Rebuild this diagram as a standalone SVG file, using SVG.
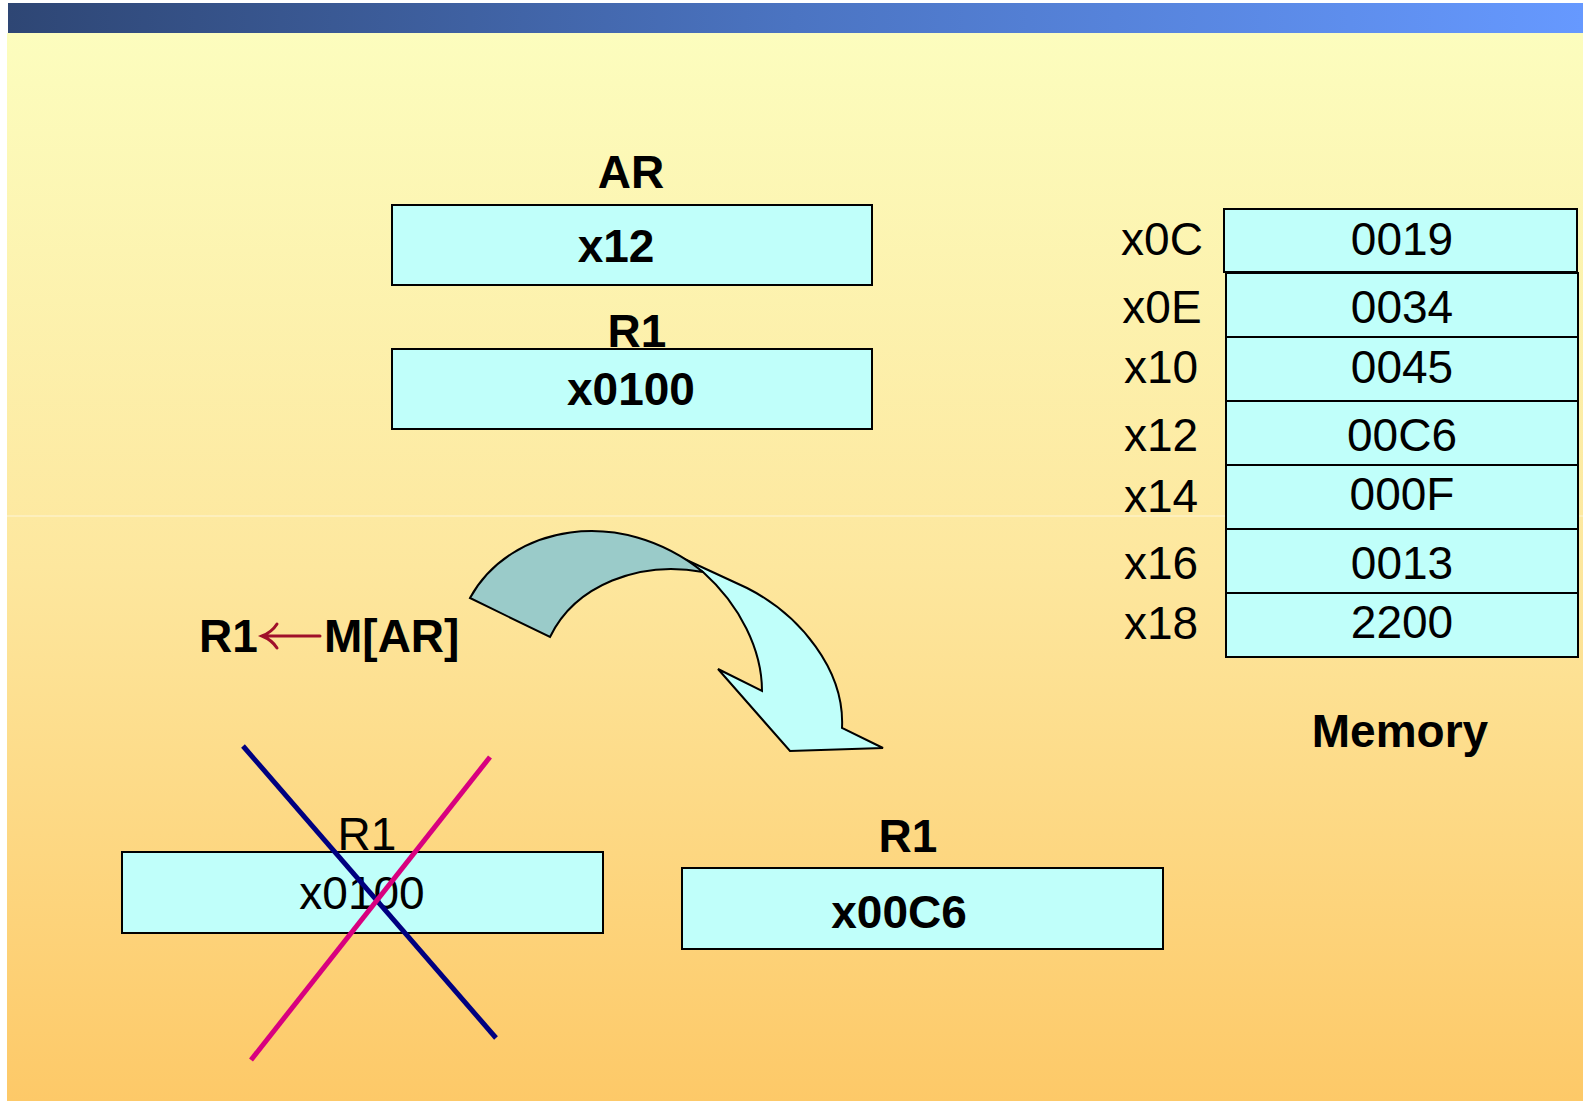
<svg xmlns="http://www.w3.org/2000/svg" width="1583" height="1101" viewBox="0 0 1583 1101">
  <defs>
    <linearGradient id="titleBar" x1="0" y1="0" x2="1" y2="0">
      <stop offset="0" stop-color="#2E4674"/>
      <stop offset="0.5" stop-color="#4B74C2"/>
      <stop offset="1" stop-color="#6699FF"/>
    </linearGradient>
    <linearGradient id="slideBg" x1="0" y1="0" x2="0" y2="1">
      <stop offset="0" stop-color="#FCFDBE"/>
      <stop offset="0.5" stop-color="#FDE79E"/>
      <stop offset="1" stop-color="#FDC968"/>
    </linearGradient>
    <style>
      .cell { fill: #C0FFFA; stroke: #000; stroke-width: 2; }
      .bold { font-family: "Liberation Sans", Arial, sans-serif; font-weight: bold; font-size: 46px; fill: #000; }
      .reg { font-family: "Liberation Sans", Arial, sans-serif; font-size: 46px; fill: #000; }
      .mid { text-anchor: middle; }
      .outline { stroke: #000; stroke-width: 2; stroke-linejoin: miter; }
    </style>
  </defs>

  <!-- page -->
  <rect x="0" y="0" width="1583" height="1101" fill="#FFFFFF"/>
  <rect x="7" y="33" width="1576" height="1068" fill="url(#slideBg)"/>
  <line x1="7" y1="516" x2="1583" y2="516" stroke="#FFFFFF" stroke-opacity="0.6" stroke-width="1"/>
  <rect x="8" y="3" width="1575" height="30" fill="url(#titleBar)"/>

  <!-- AR register -->
  <g id="reg-ar">
    <text class="bold mid" x="631" y="188">AR</text>
    <rect class="cell" x="392" y="205" width="480" height="80"/>
    <text class="bold mid" x="616" y="262">x12</text>
  </g>

  <!-- R1 register, before the load -->
  <g id="reg-r1-old">
    <text class="bold mid" x="637" y="347">R1</text>
    <rect class="cell" x="392" y="349" width="480" height="80"/>
    <text class="bold mid" x="631" y="405">x0100</text>
  </g>

  <!-- memory cells -->
  <g id="memory">
    <rect class="cell" x="1224" y="209" width="353" height="63"/>
    <rect class="cell" x="1226" y="273" width="352" height="64"/>
    <rect class="cell" x="1226" y="337" width="352" height="64"/>
    <rect class="cell" x="1226" y="401" width="352" height="64"/>
    <rect class="cell" x="1226" y="465" width="352" height="64"/>
    <rect class="cell" x="1226" y="529" width="352" height="64"/>
    <rect class="cell" x="1226" y="593" width="352" height="64"/>
    <g class="reg mid">
      <text x="1402" y="255">0019</text>
      <text x="1402" y="323">0034</text>
      <text x="1402" y="383">0045</text>
      <text x="1402" y="451">00C6</text>
      <text x="1402" y="510">000F</text>
      <text x="1402" y="579">0013</text>
      <text x="1402" y="638">2200</text>
      <text x="1162" y="255">x0C</text>
      <text x="1162" y="323">x0E</text>
      <text x="1161" y="383">x10</text>
      <text x="1161" y="451">x12</text>
      <text x="1161" y="512">x14</text>
      <text x="1161" y="579">x16</text>
      <text x="1161" y="639">x18</text>
    </g>
    <text class="bold mid" x="1400" y="747">Memory</text>
  </g>

  <!-- register transfer statement -->
  <g id="rtl">
    <text class="bold" x="199" y="652">R1</text>
    <path d="M262,636 H320 M277,624 Q272,632 262,636 Q272,640 277,648" fill="none" stroke="#A0102A" stroke-width="3" stroke-linecap="round"/>
    <text class="bold" x="324" y="652">M[AR]</text>
  </g>

  <!-- R1 old value, struck out -->
  <g id="reg-r1-discarded">
    <text class="reg mid" x="367" y="850">R1</text>
    <rect class="cell" x="122" y="852" width="481" height="81"/>
    <text class="reg mid" x="362" y="909">x0100</text>
    <line x1="243" y1="746" x2="496" y2="1038" stroke="#000080" stroke-width="5"/>
    <line x1="490" y1="757" x2="251" y2="1060" stroke="#D8007F" stroke-width="5"/>
  </g>

  <!-- R1 after the load -->
  <g id="reg-r1-new">
    <text class="bold mid" x="908" y="852">R1</text>
    <rect class="cell" x="682" y="868" width="481" height="81"/>
    <text class="bold mid" x="899" y="928">x00C6</text>
  </g>

  <!-- curved block arrow from the memory read into R1 -->
  <g id="connectors">
    <path class="outline" fill="#C0FFFA" d="M680,557 L747,588 C800,615 845,670 842,728 L883,748 L790,751 L718,669 L762,691 C762,650 740,605 703,572 Z"/>
    <path class="outline" fill="#9ACBC9" d="M470,598 C510,525 620,505 703,572 C640,560 575,585 550,637 Z"/>
  </g>
</svg>
